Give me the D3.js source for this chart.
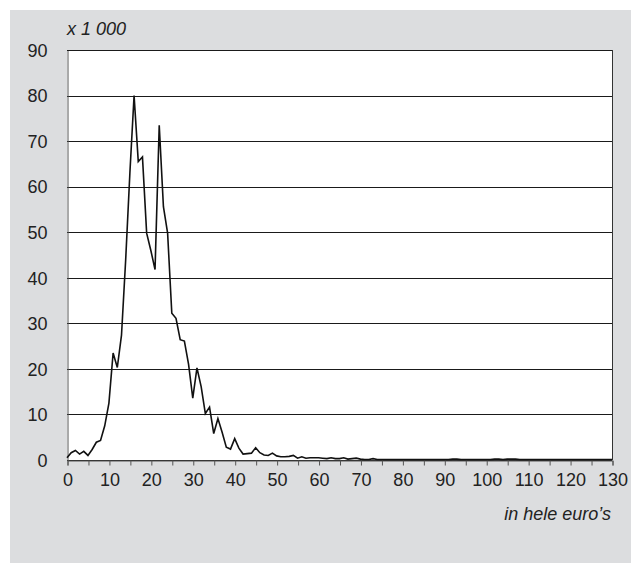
<!DOCTYPE html>
<html><head><meta charset="utf-8">
<script src="https://cdn.jsdelivr.net/npm/d3@7"></script>
<style>body{margin:0;background:#fff}svg{display:block}text{font-family:"Liberation Sans",Arial,sans-serif;fill:#222}</style>
</head><body><svg id="c" width="641" height="563"></svg>
<script>
const xValues = d3.range(0, 131);
const yValues = [
0.5,1.6,2.1,1.3,1.9,1.0,2.3,3.9,4.3,7.5,
12.5,23.5,20.3,27.4,44,63,80,65.5,66.5,49.8,
46,41.8,73.5,55.6,49.8,32.2,31.1,26.4,26.1,21,
13.6,20.2,16.1,10.2,11.6,5.8,9.1,6.1,2.8,2.4,
4.7,2.6,1.3,1.4,1.5,2.7,1.6,1.1,1.0,1.5,
0.9,0.7,0.7,0.8,1.0,0.4,0.7,0.4,0.5,0.5,
0.5,0.4,0.3,0.5,0.3,0.3,0.5,0.2,0.3,0.4,
0.2,0.1,0.1,0.3,0.1,0.1,0.1,0.1,0.1,0.1,
0.1,0.1,0.1,0.1,0.1,0.1,0.1,0.1,0.1,0.1,
0.1,0.1,0.2,0.2,0.1,0.1,0.1,0.1,0.1,0.1,
0.1,0.1,0.2,0.2,0.1,0.2,0.2,0.2,0.1,0.1,
0.1,0.1,0.1,0.1,0.1,0.1,0.1,0.1,0.1,0.1,
0.1,0.1,0.1,0.1,0.1,0.1,0.1,0.1,0.1,0.1,
0.1
];
const yTicks = [0,10,20,30,40,50,60,70,80,90];
const xTicks = d3.range(0, 131, 10);
const xMinor = d3.range(0, 131, 5);
const yUnitLabel = "x 1 000";
const xUnitLabel = "in hele euro\u2019s";

const svg = d3.select("#c");
const L = 67, R = 612, T = 50, B = 460;
svg.append("rect").attr("x",10).attr("y",10).attr("width",621).attr("height",553).attr("fill","#dcdddf");
svg.append("rect").attr("x",L).attr("y",T).attr("width",R-L).attr("height",B-T).attr("fill","#fff");

const x = d3.scaleLinear().domain([0,130]).range([L,R]);
const y = d3.scaleLinear().domain([0,90]).range([B,T]);

svg.append("g").selectAll("line").data(yTicks).join("line")
  .attr("x1",L).attr("x2",R).attr("y1",d=>Math.round(y(d))+0.5).attr("y2",d=>Math.round(y(d))+0.5)
  .attr("stroke","#1a1a1a").attr("stroke-width",1);
svg.append("line").attr("x1",R+0.5).attr("x2",R+0.5).attr("y1",T).attr("y2",B).attr("stroke","#333");

const yAxis = d3.axisLeft(y).tickValues(yTicks).tickSize(0).tickPadding(20);
const gy = svg.append("g").attr("transform",`translate(${L+0.5},0.5)`).call(yAxis);
gy.select(".domain").attr("stroke","#555");
gy.selectAll("text").style("font-size","18px").attr("fill","#222");

const xAxis = d3.axisBottom(x).tickValues(xMinor).tickSize(5).tickPadding(4)
  .tickFormat(d => d % 10 === 0 ? d : "");
const gx = svg.append("g").attr("transform",`translate(0.5,${B+0.5})`).call(xAxis);
gx.select(".domain").attr("stroke","#555");
gx.selectAll(".tick line").attr("stroke","#555");
gx.selectAll("text").style("font-size","18px").attr("fill","#222").attr("dy","0.9em");

const data = xValues.map((v,i)=>({x:v,y:yValues[i]}));
svg.append("path").datum(data)
  .attr("fill","none").attr("stroke","#111").attr("stroke-width",1.6).attr("stroke-linejoin","miter")
  .attr("d", d3.line().x(d=>x(d.x)).y(d=>y(d.y)));

svg.append("text").attr("x",67).attr("y",35).style("font-size","18px").style("font-style","italic").text(yUnitLabel);
svg.append("text").attr("x",611).attr("y",520).attr("text-anchor","end").style("font-size","18px").style("font-style","italic").text(xUnitLabel);
</script></body></html>
